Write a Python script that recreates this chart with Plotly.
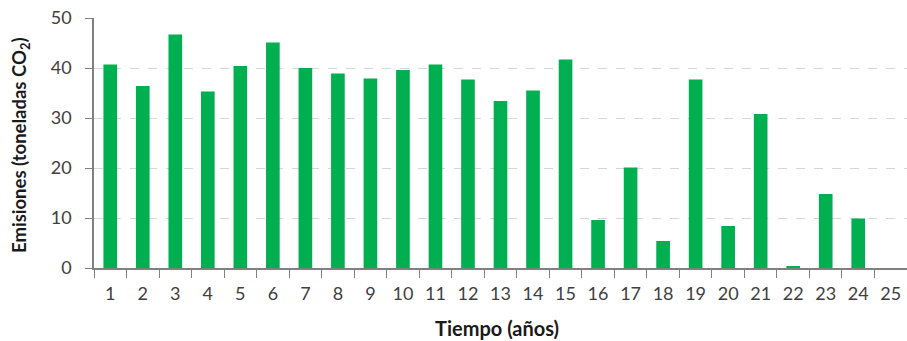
import plotly.graph_objects as go

years = [str(i) for i in range(1, 26)]
emisiones = [40.7, 36.4, 46.7, 35.3, 40.4, 45.1, 40.0, 38.9, 37.9, 39.6,
             40.7, 37.7, 33.4, 35.5, 41.7, 9.6, 20.1, 5.4, 37.7, 8.4,
             30.8, 0.3, 14.8, 9.9, 0]
y_ticks = [0, 10, 20, 30, 40, 50]

W, H = 907, 341
L, R, T, B = 94, 0, 18, 73
pw, ph = W - L - R, H - T - B

fig = go.Figure(go.Bar(
    x=years, y=emisiones, width=0.42,
    marker=dict(color="#00B050", line=dict(width=0)),
))

fig.update_layout(
    width=W, height=H,
    margin=dict(l=L, r=R, t=T, b=B),
    paper_bgcolor="white", plot_bgcolor="white",
    font=dict(family="Lato, Open Sans, sans-serif", size=18, color="#404040"),
    showlegend=False,
)
fig.update_xaxes(
    type="category", tickson="boundaries", ticks="outside", ticklen=8,
    tickcolor="#808080", showline=True, linecolor="#808080", linewidth=1.5,
    showgrid=False, automargin=False, ticklabelstandoff=9,
)
fig.update_yaxes(
    range=[0, 50], tickvals=y_ticks, ticks="outside", ticklen=7,
    tickcolor="#808080", showline=True, linecolor="#808080", linewidth=1.5,
    showgrid=True, gridcolor="#D6D6D6", griddash="dash", gridwidth=1,
    zeroline=False, automargin=False, ticklabelstandoff=10,
)
fig.add_annotation(
    text="<b>Tiempo (años)</b>", xref="paper", yref="paper",
    x=(497 - L) / pw, y=-(328 - (T + ph)) / ph, xanchor="center", yanchor="middle",
    showarrow=False, font=dict(size=20, color="#1a1a1a"),
)
fig.add_annotation(
    text="<b>Emisiones (toneladas CO<sub>2</sub>)</b>", xref="paper", yref="paper",
    x=(20 - L) / pw, y=(T + ph - 145) / ph, xanchor="center", yanchor="middle",
    textangle=-90, showarrow=False, font=dict(size=18.5, color="#1a1a1a"),
)

fig.write_html("out.html", config={"displayModeBar": False},
               post_script="document.body.style.margin='0';document.body.style.overflow='hidden';")
